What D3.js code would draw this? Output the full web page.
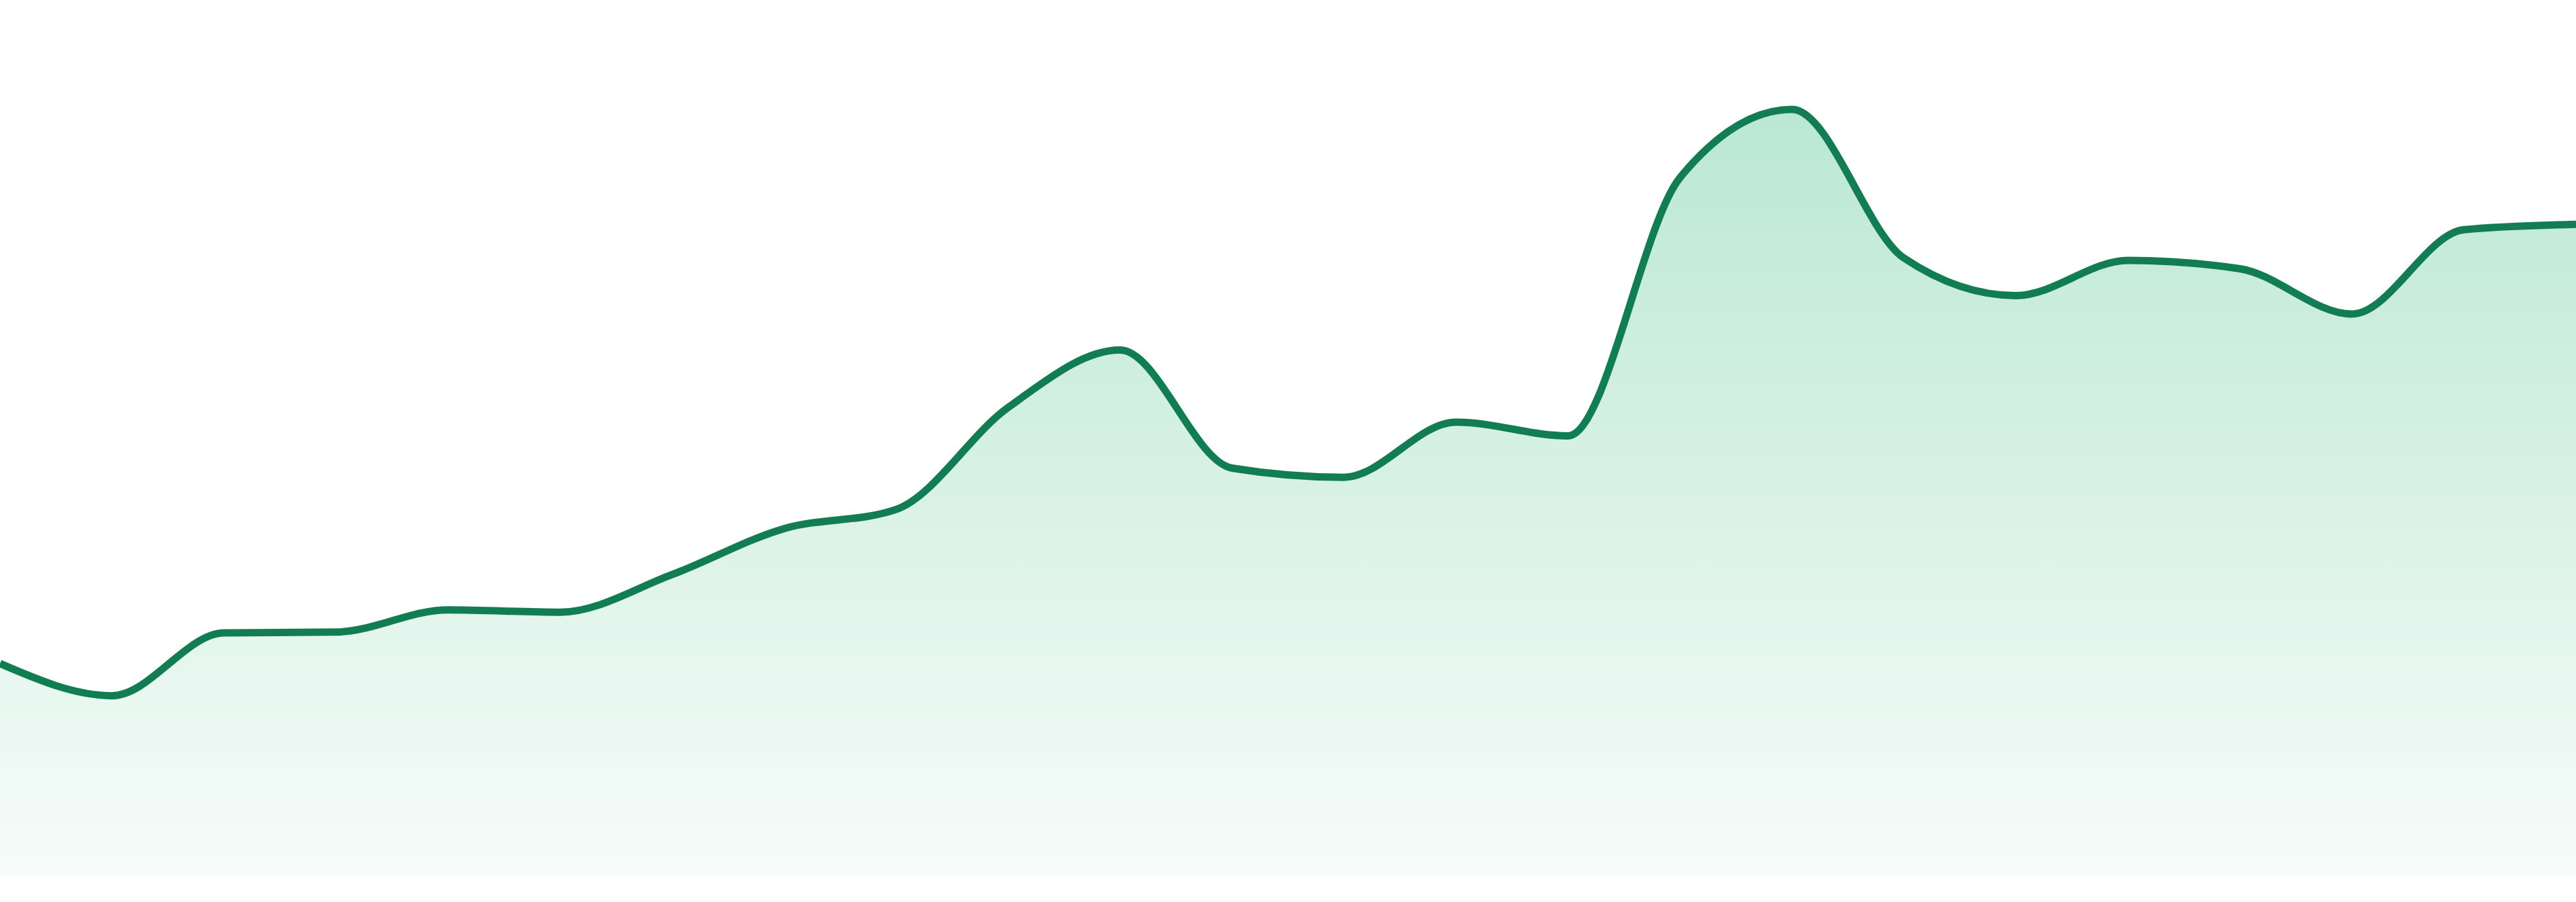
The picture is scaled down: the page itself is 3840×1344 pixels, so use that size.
<!DOCTYPE html>
<html>
<head>
<meta charset="utf-8">
<script src="https://cdn.jsdelivr.net/npm/d3@7"></script>
<style>
  html, body { margin: 0; padding: 0; background: #ffffff; overflow: hidden; }
  svg { display: block; }
</style>
</head>
<body>
<svg id="chart" width="3840" height="1344"></svg>
<script>
const categories = ["1","2","3","4","5","6","7","8","9","10","11","12","13","14","15","16","17","18","19","20","21","22","23","24"];
const values = [27.7, 23.5, 31.7, 31.8, 34.7, 34.4, 39.3, 45.3, 47.8, 61.1, 68.6, 53.2, 52.0, 59.2, 57.4, 91.1, 100, 80.6, 75.7, 80.3, 79.2, 73.3, 84.3, 85.0];
const yDomain = [0, 100];

(function () {
  const W = 3840, H = 1344;
  const plotBottom = 1305, plotTop = 163;

  const svg = d3.select("#chart");
  const x = d3.scalePoint().domain(categories).range([0, W]);
  const y = d3.scaleLinear().domain(yDomain).range([plotBottom, plotTop]);

  const data = categories.map((c, i) => ({ c, v: values[i] }));

  const defs = svg.append("defs");
  const grad = defs.append("linearGradient")
    .attr("id", "fillGrad")
    .attr("gradientUnits", "userSpaceOnUse")
    .attr("x1", 0).attr("x2", 0)
    .attr("y1", y(yDomain[1])).attr("y2", plotBottom);
  grad.append("stop").attr("offset", "0%").attr("stop-color", "#bae7d5");
  grad.append("stop").attr("offset", "100%").attr("stop-color", "#f7fcfa");

  const area = d3.area()
    .x(d => x(d.c))
    .y0(plotBottom)
    .y1(d => y(d.v))
    .curve(d3.curveMonotoneX);

  const line = d3.line()
    .x(d => x(d.c))
    .y(d => y(d.v))
    .curve(d3.curveMonotoneX);

  svg.append("path")
    .datum(data)
    .attr("d", area)
    .attr("fill", "url(#fillGrad)");

  svg.append("path")
    .datum(data)
    .attr("d", line)
    .attr("fill", "none")
    .attr("stroke", "#127c52")
    .attr("stroke-width", 11)
    .attr("stroke-linejoin", "round");
})();
</script>
</body>
</html>
